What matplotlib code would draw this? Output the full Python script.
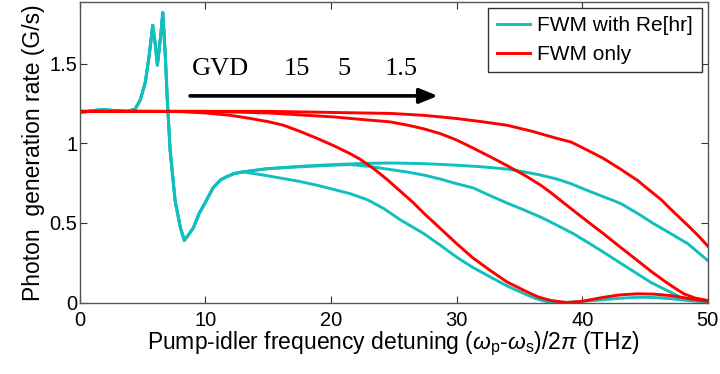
import matplotlib
matplotlib.use("Agg")
import matplotlib.pyplot as plt

# values
# shared start of the three "FWM with Re[hr]" curves (x in THz, rate in G/s)
x_start = [0, 1.0, 1.8, 2.8, 3.8, 4.4, 4.8, 5.2, 5.5, 5.8, 6.0, 6.17, 6.4, 6.6,
           6.8, 6.96, 7.18, 7.58, 8.0, 8.32, 8.6, 9.04, 9.5, 10.0, 10.6,
           11.2, 11.7, 12.3, 13.0]
y_start = [1.19, 1.205, 1.21, 1.205, 1.2, 1.215, 1.27, 1.38, 1.54, 1.74, 1.62,
           1.49, 1.65, 1.82, 1.55, 1.27, 0.96, 0.64, 0.47, 0.39, 0.42, 0.47,
           0.56, 0.63, 0.72, 0.77, 0.79, 0.81, 0.82]

# FWM with Re[hr], GVD 15 / 5 / 1.5 (after x = 13)
x_cyan15 = [13.8, 15.0, 16.2, 17.5, 18.9, 20.2, 21.5, 22.9, 24.2, 25.5, 27.4,
            28.7, 30.0, 31.3, 32.7, 34.0, 35.4, 36.3, 37.2, 38.0, 39.0, 40.0,
            41.7, 43.0, 44.4, 45.7, 47.0, 48.5, 50.0]
y_cyan15 = [0.81, 0.795, 0.778, 0.76, 0.736, 0.71, 0.684, 0.645, 0.59, 0.52,
            0.432, 0.36, 0.285, 0.22, 0.16, 0.105, 0.055, 0.025, 0.005, 0.0,
            0.002, 0.008, 0.018, 0.027, 0.033, 0.032, 0.025, 0.012, 0.003]

x_cyan5 = [14.9, 17.5, 20.2, 21.5, 23.0, 24.7, 26.0, 27.4, 28.7, 30.0, 31.3,
           32.7, 34.0, 35.4, 36.7, 38.0, 39.3, 40.5, 41.7, 43.0, 44.4, 45.5,
           46.5, 47.8, 49.0, 50.0]
y_cyan5 = [0.84, 0.852, 0.862, 0.866, 0.855, 0.835, 0.82, 0.80, 0.775, 0.746,
           0.72, 0.67, 0.625, 0.58, 0.536, 0.485, 0.432, 0.375, 0.316, 0.25,
           0.18, 0.125, 0.086, 0.035, 0.012, 0.003]

x_cyan1 = [14.9, 17.5, 20.2, 22.9, 24.7, 27.4, 30.0, 32.0, 34.0, 35.4, 36.7,
           38.0, 39.1, 40.4, 41.5, 42.5, 43.1, 44.4, 45.7, 47.0, 48.4, 50.0]
y_cyan1 = [0.84, 0.855, 0.866, 0.874, 0.876, 0.872, 0.862, 0.852, 0.838, 0.82,
           0.80, 0.775, 0.746, 0.704, 0.67, 0.64, 0.62, 0.56, 0.495, 0.435,
           0.37, 0.264]

# FWM only, GVD 15 / 5 / 1.5
x_red15 = [0, 5.0, 8.0, 10.0, 12.0, 13.6, 15.0, 16.2, 17.5, 18.9, 20.2, 21.5,
           22.3, 23.4, 24.5, 25.5, 26.5, 27.4, 28.7, 30.0, 31.3, 32.7, 34.0,
           35.4, 36.5, 37.5, 38.8, 40.0, 41.7, 43.0, 44.4, 45.7, 47.0, 48.5,
           50.0]
y_red15 = [1.2, 1.2, 1.198, 1.19, 1.175, 1.155, 1.135, 1.113, 1.075, 1.03,
           0.985, 0.935, 0.90, 0.84, 0.77, 0.70, 0.63, 0.56, 0.465, 0.37, 0.28,
           0.20, 0.13, 0.075, 0.035, 0.013, 0.0, 0.008, 0.033, 0.048, 0.055,
           0.053, 0.044, 0.025, 0.008]

x_red5 = [0, 10.0, 15.0, 20.2, 22.3, 24.7, 26.0, 27.4, 28.7, 30.0, 31.3, 32.7,
          34.0, 35.4, 36.7, 37.5, 38.3, 39.1, 40.4, 41.7, 43.0, 44.4, 45.5,
          46.5, 47.3, 48.1, 49.0, 50.0]
y_red5 = [1.2, 1.2, 1.19, 1.165, 1.15, 1.134, 1.115, 1.09, 1.06, 1.02, 0.97,
          0.914, 0.86, 0.80, 0.736, 0.69, 0.64, 0.59, 0.51, 0.432, 0.35, 0.264,
          0.195, 0.138, 0.095, 0.055, 0.028, 0.013]

x_red1 = [0, 15.0, 22.3, 24.7, 27.4, 30.0, 32.0, 34.0, 36.0, 38.0, 39.1, 40.7,
          41.7, 43.0, 44.4, 45.2, 46.3, 47.0, 47.8, 48.6, 49.3, 50.0]
y_red1 = [1.2, 1.2, 1.19, 1.187, 1.175, 1.155, 1.135, 1.113, 1.075, 1.03,
          1.008, 0.945, 0.904, 0.84, 0.767, 0.715, 0.645, 0.59, 0.53, 0.47,
          0.415, 0.355]

gvd_labels = ["GVD", "15", "5", "1.5"]

CYAN = "#12bfbf"
RED = "#ff0000"

plt.rcParams["font.family"] = ["Liberation Sans", "DejaVu Sans"]
plt.rcParams["mathtext.fontset"] = "custom"
plt.rcParams["mathtext.rm"] = "Liberation Sans"
plt.rcParams["mathtext.it"] = "Liberation Sans:italic"

fig = plt.figure(figsize=(7.2, 3.74), dpi=100)
ax = fig.add_axes([0.111, 0.191, 0.872, 0.804])

lw = 2.1
for xs, ys in [(x_cyan15, y_cyan15), (x_cyan5, y_cyan5), (x_cyan1, y_cyan1)]:
    ax.plot(x_start + xs, y_start + ys, color=CYAN, lw=lw,
            solid_joinstyle="round")
for xs, ys in [(x_red15, y_red15), (x_red5, y_red5), (x_red1, y_red1)]:
    ax.plot(xs, ys, color=RED, lw=lw, solid_joinstyle="round")

# legend proxies
ax.plot([], [], color=CYAN, lw=lw, label="FWM with Re[hr]")
ax.plot([], [], color=RED, lw=lw, label="FWM only")
handles, labels = ax.get_legend_handles_labels()
leg = ax.legend(handles, labels, loc="upper right", fontsize=15,
                handlelength=1.6, handletextpad=0.35, labelspacing=0.45,
                borderpad=0.4, borderaxespad=0.3, fancybox=False,
                framealpha=1.0, edgecolor="#333333")
leg.get_frame().set_linewidth(1.0)

# GVD annotation with arrow
gvd_x = [8.93, 16.2, 20.5, 24.3]
for lbl, gx in zip(gvd_labels, gvd_x):
    ax.text(gx, 1.425, lbl, family="Liberation Serif", fontsize=19,
            ha="left", va="baseline")
ax.annotate("", xy=(28.5, 1.297), xytext=(8.77, 1.297),
            arrowprops=dict(arrowstyle="-|>,head_length=1.1,head_width=0.45",
                            color="black", lw=2.6, shrinkA=0, shrinkB=0))

ax.set_xlim(0, 50)
ax.set_ylim(0, 1.887)
ax.set_xticks([0, 10, 20, 30, 40, 50])
ax.set_yticks([0, 0.5, 1, 1.5])
ax.set_yticklabels(["0", "0.5", "1", "1.5"])
ax.tick_params(direction="in", length=5, width=0.8, top=True, right=True,
               labelsize=14.5, color="#333333")
ax.tick_params(axis="x", pad=6)
ax.tick_params(axis="y", pad=2)
for sp in ax.spines.values():
    sp.set_color("#555555")
    sp.set_linewidth(1.0)

ax.set_xlabel(r"Pump-idler frequency detuning ($\omega_{\rm p}$-$\omega_{\rm s}$)/2$\pi$ (THz)",
              fontsize=16.5, labelpad=0)
ax.set_ylabel("Photon  generation rate (G/s)", fontsize=16.5, labelpad=3)

fig.savefig("out.png", dpi=100)
